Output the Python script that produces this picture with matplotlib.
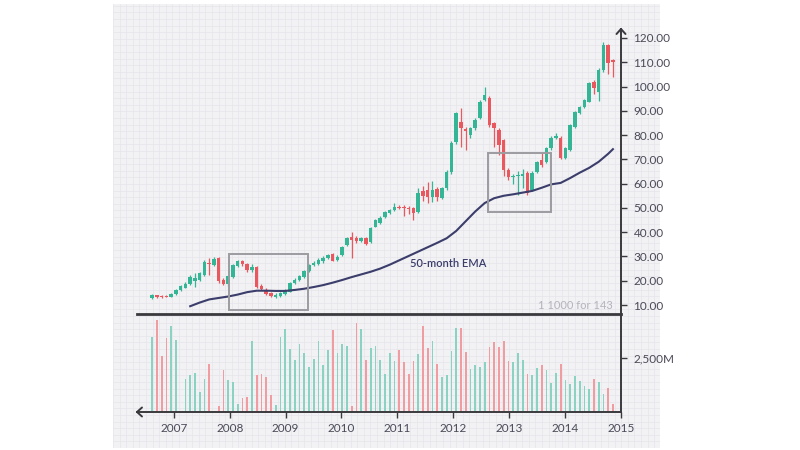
import matplotlib
matplotlib.use("Agg")  # headless
import matplotlib.pyplot as plt
from matplotlib.patches import Rectangle
import numpy as np

plt.rcParams["font.family"] = ["Lato", "DejaVu Sans"]

# monthly candles, one per index (Aug 2006 .. late 2014)
opens = [12.8, 14.0, 13.6, 13.6, 13.4, 14.5, 16.0, 17.2, 18.8, 20.0,
         20.5, 22.4, 27.5, 26.5, 29.2, 20.3, 18.8, 21.5, 26.0, 28.0,
         27.0, 24.5, 25.5, 17.8, 16.2, 15.0, 13.5, 13.8, 14.5, 15.5,
         19.0, 20.5, 21.5, 24.0, 26.5, 27.0, 28.0, 29.2, 31.0, 28.5,
         30.6, 34.7, 38.1, 37.4, 36.5, 37.4, 36.0, 42.3, 43.9, 46.4,
         47.8, 49.1, 50.5, 50.3, 50.0, 49.8, 48.4, 56.8, 57.3, 54.3,
         57.7, 54.0, 58.1, 64.9, 77.3, 85.5, 82.5, 80.0, 82.8, 86.9,
         94.5, 95.2, 84.9, 82.0, 78.0, 65.6, 62.8, 63.0, 63.0, 64.4,
         57.4, 64.9, 69.7, 69.0, 74.6, 79.0, 78.7, 70.5, 74.0, 83.5,
         89.0, 91.7, 93.8, 102.0, 97.9, 106.8, 117.1, 111.0]
highs = [14.5, 14.3, 14.0, 14.0, 15.0, 16.4, 18.2, 19.5, 22.5, 23.0,
         23.5, 28.5, 29.5, 29.8, 29.8, 21.0, 22.5, 27.0, 28.5, 28.6,
         27.5, 26.8, 26.2, 18.5, 16.8, 15.5, 14.8, 15.2, 16.5, 19.5,
         21.0, 22.5, 24.5, 27.0, 28.0, 29.5, 30.0, 31.0, 31.5, 30.5,
         34.5, 38.0, 40.0, 38.5, 38.0, 38.0, 42.0, 45.5, 46.5, 48.8,
         49.5, 52.0, 51.0, 51.0, 50.6, 50.5, 58.0, 59.0, 60.5, 61.0,
         58.5, 58.5, 65.5, 77.5, 89.5, 91.0, 83.5, 83.5, 87.0, 94.5,
         100.0, 96.0, 85.5, 83.0, 78.5, 66.5, 64.0, 65.0, 66.0, 65.0,
         65.0, 69.5, 72.5, 75.0, 79.5, 81.0, 79.5, 75.0, 84.5, 90.0,
         92.0, 95.0, 102.0, 102.5, 107.5, 118.5, 117.5, 111.5]
lows = [12.3, 12.9, 13.0, 13.1, 13.2, 14.2, 15.6, 16.8, 18.3, 17.5,
        20.0, 22.0, 22.5, 26.0, 19.0, 18.2, 18.0, 21.0, 25.5, 26.0,
        23.5, 23.8, 17.0, 16.2, 14.0, 13.2, 12.8, 13.4, 14.0, 15.2,
        18.5, 20.0, 21.0, 23.5, 26.0, 26.5, 27.5, 28.8, 28.0, 28.0,
        30.2, 34.2, 29.2, 35.5, 36.0, 34.8, 35.5, 42.0, 43.5, 46.0,
        47.3, 48.8, 49.5, 46.5, 47.5, 45.0, 48.0, 53.0, 52.0, 52.5,
        53.0, 53.5, 57.5, 64.0, 76.5, 75.2, 73.9, 79.0, 82.0, 86.5,
        94.0, 83.5, 75.0, 72.0, 63.0, 61.5, 60.0, 55.5, 58.0, 55.5,
        57.0, 64.5, 67.0, 68.5, 74.0, 78.5, 70.0, 70.0, 73.5, 83.0,
        88.5, 91.0, 93.5, 97.0, 94.0, 106.0, 105.0, 104.0]
closes = [14.0, 13.2, 13.3, 13.3, 14.6, 16.0, 17.8, 18.8, 21.5, 21.0,
          23.0, 27.8, 27.0, 28.8, 19.8, 18.8, 22.0, 26.5, 28.0, 27.0,
          24.5, 25.5, 17.5, 16.6, 14.6, 13.8, 14.2, 14.8, 16.0, 19.0,
          20.5, 22.0, 24.0, 26.5, 27.5, 28.5, 29.5, 30.6, 28.3, 29.9,
          34.0, 37.5, 36.8, 36.5, 37.4, 35.2, 41.6, 45.0, 45.7, 48.4,
          49.1, 50.5, 50.0, 49.9, 49.7, 47.8, 56.0, 54.8, 54.3, 57.3,
          54.6, 58.1, 64.9, 76.6, 89.0, 82.8, 81.5, 82.8, 86.2, 93.8,
          96.5, 84.2, 83.0, 75.9, 65.6, 62.9, 63.3, 63.5, 63.8, 56.2,
          64.3, 69.0, 67.7, 74.6, 78.7, 79.6, 70.4, 74.6, 84.2, 89.6,
          91.7, 94.5, 101.3, 99.3, 106.8, 117.1, 109.6, 110.0]
volume_m = [3472, 4244, 2577, 3426, 3981, 3349, 0, 1543, 1728, 1821,
            926, 1543, 2238, 0, 262, 1960, 1466, 1389, 386, 648,
            694, 3272, 1728, 1775, 1620, 772, 309, 3472, 3858, 2932,
            2392, 3164, 2747, 2083, 2469, 3272, 2160, 2855, 3781, 2747,
            3164, 3056, 278, 4136, 3858, 2392, 2963, 3040, 2392, 1775,
            2747, 2346, 2855, 2315, 1775, 2346, 2685, 3981, 2963, 3272,
            2238, 1620, 1728, 2824, 3889, 3889, 2778, 1975, 2191, 2083,
            2315, 3009, 3241, 3009, 3272, 2346, 2315, 2747, 2392, 1775,
            1698, 2037, 2191, 1929, 1343, 1806, 2238, 1466, 1281, 1667,
            1435, 1204, 1049, 1543, 1389, 849, 1111, 386]

# 50-month EMA (month index, price)
ema_month = [8, 10, 12, 14, 16, 18, 20, 22, 24, 26, 28, 30, 32, 34, 36, 38,
             40, 42, 44, 46, 48, 50, 52, 54, 56, 58, 60, 62, 64, 66, 68, 70,
             72, 74, 76, 78, 80, 82, 84, 86, 88, 90, 92, 94, 96, 97]
ema_value = [9.5, 11.0, 12.3, 12.9, 13.5, 14.3, 15.3, 15.9, 15.9, 15.8,
             15.8, 16.2, 16.7, 17.4, 18.2, 19.2, 20.3, 21.5, 22.6, 23.7,
             25.0, 26.6, 28.4, 30.2, 32.0, 33.8, 35.6, 37.5, 40.5, 44.5,
             48.5, 52.0, 54.0, 55.0, 55.6, 56.3, 57.0, 58.3, 59.7, 60.3,
             62.3, 64.5, 66.5, 69.0, 72.3, 74.2]

# highlighted zones: (first month, last month, low price, high price)
boxes = [(16.1, 32.7, 7.9, 31.0), (70.6, 83.9, 48.4, 72.8)]

years = [2007, 2008, 2009, 2010, 2011, 2012, 2013, 2014, 2015]
price_ticks = [10, 20, 30, 40, 50, 60, 70, 80, 90, 100, 110, 120]

GREEN = "#34b595"
RED = "#e9575f"
VOL_GREEN = "#8ad3c2"
VOL_RED = "#f09ca1"
AXIS = "#3a3a3e"
LABEL = "#4a4a58"

fig = plt.figure(figsize=(8, 4.5), dpi=100)
W, H = 800, 450


def frac(x0, y0, x1, y1):
    # pixel box (top-left origin) -> figure fraction rect
    return [x0 / W, 1 - y1 / H, (x1 - x0) / W, (y1 - y0) / H]


# gray grid-paper panel behind the chart
bg = fig.add_axes(frac(113, 4, 660, 448))
bg.set_facecolor("#f2f2f4")
bg.set_xlim(0, 547)
bg.set_ylim(0, 444)
bg.set_xticks(np.arange(0, 547, 6.6))
bg.set_yticks(np.arange(0, 444, 6.6))
bg.grid(True, color="#e5e5ea", lw=0.5)
bg.tick_params(length=0, labelbottom=False, labelleft=False)
for s in bg.spines.values():
    s.set_visible(False)

x_left, x_right = -3.2, 98.7

# ---- price panel ----
ax = fig.add_axes(frac(137, 29, 621, 313.5))
ax.patch.set_alpha(0)
ax.set_xlim(x_left, x_right)
ax.set_ylim(6.5, 123.7)

for i in range(len(opens)):
    o, h, l, c = opens[i], highs[i], lows[i], closes[i]
    col = GREEN if c >= o else RED
    ax.vlines(i, l, h, color=col, lw=0.9, zorder=2)
    body = max(abs(c - o), 0.45)
    ax.bar(i, body, bottom=min(o, c), width=0.72, color=col, zorder=3)

ax.plot(ema_month, ema_value, color="#3b3d6b", lw=1.5, zorder=4)
ax.text(62.3, 27.3, "50-month EMA", color="#3b3d6b", fontsize=8,
        ha="center", va="center", fontweight="semibold")
ax.text(96.9, 10, "1 1000 for 143", color="#b4b4bc", fontsize=8,
        ha="right", va="center")

for x0, x1, lo, hi in boxes:
    ax.add_patch(Rectangle((x0, lo), x1 - x0, hi - lo, fill=False,
                           ec="#9c9ca0", lw=1.4, zorder=5))

ax.yaxis.tick_right()
ax.set_yticks(price_ticks)
ax.set_yticklabels([f"{v:.2f}" for v in price_ticks])
ax.tick_params(axis="y", direction="out", length=4, width=1, color=AXIS,
               labelcolor=LABEL, labelsize=8.5, pad=5)
ax.set_xticks([])
for name in ("top", "left"):
    ax.spines[name].set_visible(False)
ax.spines["right"].set_color(AXIS)
ax.spines["right"].set_linewidth(1.4)
ax.spines["bottom"].set_color(AXIS)
ax.spines["bottom"].set_linewidth(2)

# chevron on top of the price axis
dx, dy = 4.5 / 484, 5 / 284.5
ax.plot([1 - dx, 1, 1 + dx], [1 - dy, 1, 1 - dy], transform=ax.transAxes,
        color=AXIS, lw=1.4, clip_on=False, solid_capstyle="round")

# ---- volume panel ----
axv = fig.add_axes(frac(137, 315, 621, 412))
axv.patch.set_alpha(0)
axv.set_xlim(x_left, x_right)
axv.set_ylim(0, 4490)
vol_cols = [VOL_GREEN if c >= o else VOL_RED for o, c in zip(opens, closes)]
axv.bar(range(len(volume_m)), volume_m, width=0.36, color=vol_cols)

axv.yaxis.tick_right()
axv.set_yticks([2500])
axv.set_yticklabels(["2,500M"])
axv.tick_params(axis="y", direction="out", length=4, width=1, color=AXIS,
                labelcolor=LABEL, labelsize=8.5, pad=5)

year_pos = [4.56 + (y - 2007) * 11.76 for y in years]
axv.set_xticks(year_pos)
axv.set_xticklabels([str(y) for y in years])
axv.tick_params(axis="x", direction="out", length=4, width=1, color=AXIS,
                labelcolor=LABEL, labelsize=8.5, pad=4)
for name in ("top", "left"):
    axv.spines[name].set_visible(False)
for name in ("right", "bottom"):
    axv.spines[name].set_color(AXIS)
    axv.spines[name].set_linewidth(1.4)

# chevron at the left end of the time axis
ex, ey = 5 / 484, 4.5 / 97
axv.plot([ex, 0, ex], [ey, 0, -ey], transform=axv.transAxes,
         color=AXIS, lw=1.4, clip_on=False, solid_capstyle="round")

fig.savefig("out.png", dpi=100)
